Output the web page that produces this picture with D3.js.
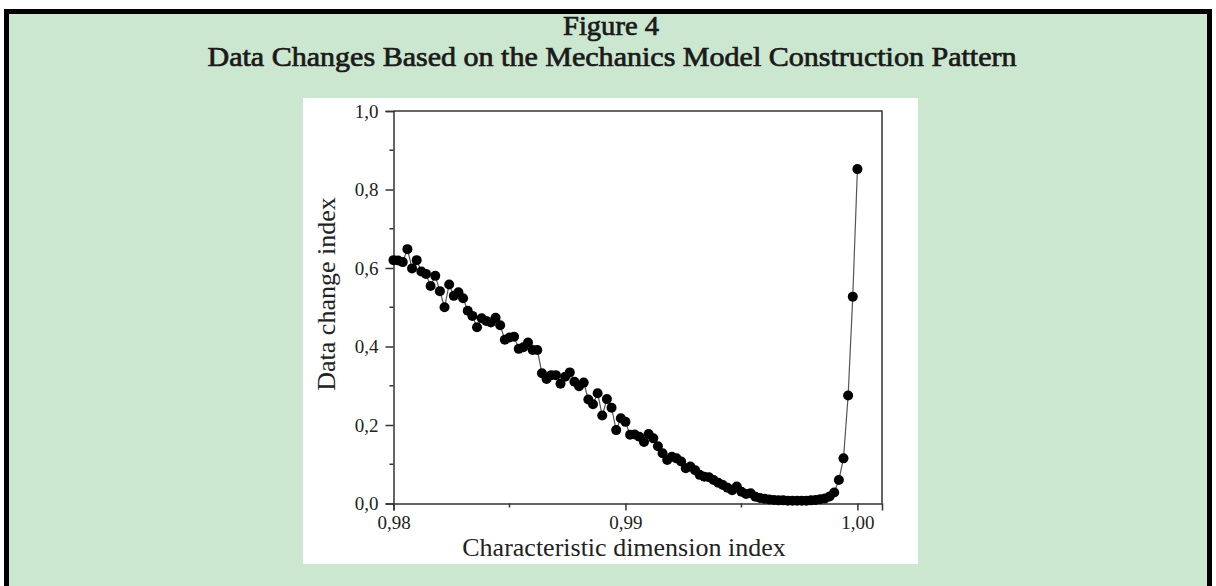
<!DOCTYPE html>
<html>
<head>
<meta charset="utf-8">
<script src="https://cdn.jsdelivr.net/npm/d3@7"></script>
<style>
  html, body { margin: 0; padding: 0; background: #fff; }
  svg { display: block; }
  .tick-label { font-family: 'Liberation Serif', 'DejaVu Serif', serif; font-size: 19px; fill: #222; }
  .axis-title { font-family: 'Liberation Serif', 'DejaVu Serif', serif; font-size: 26px; fill: #222; }
  .fig-title { font-family: 'Liberation Serif', 'DejaVu Serif', serif; font-size: 27px; fill: #1a1a1a; stroke: #1a1a1a; stroke-width: 0.7px; }
</style>
</head>
<body>
<svg id="chart" width="1216" height="586"></svg>
<script>
// characteristic dimension index (x) and data change index (y)
const dimensionIndex = [
  0.9800, 0.9802, 0.9804, 0.9806, 0.9808, 0.9810, 0.9812, 0.9814, 0.9816, 0.9818,
  0.9820, 0.9822, 0.9824, 0.9826, 0.9828, 0.9830, 0.9832, 0.9834, 0.9836, 0.9838,
  0.9840, 0.9842, 0.9844, 0.9846, 0.9848, 0.9850, 0.9852, 0.9854, 0.9856, 0.9858,
  0.9860, 0.9862, 0.9864, 0.9866, 0.9868, 0.9870, 0.9872, 0.9874, 0.9876, 0.9878,
  0.9880, 0.9882, 0.9884, 0.9886, 0.9888, 0.9890, 0.9892, 0.9894, 0.9896, 0.9898,
  0.9900, 0.9902, 0.9904, 0.9906, 0.9908, 0.9910, 0.9912, 0.9914, 0.9916, 0.9918,
  0.9920, 0.9922, 0.9924, 0.9926, 0.9928, 0.9930, 0.9932, 0.9934, 0.9936, 0.9938,
  0.9940, 0.9942, 0.9944, 0.9946, 0.9948, 0.9950, 0.9952, 0.9954, 0.9956, 0.9958,
  0.9960, 0.9962, 0.9964, 0.9966, 0.9968, 0.9970, 0.9972, 0.9974, 0.9976, 0.9978,
  0.9980, 0.9982, 0.9984, 0.9986, 0.9988, 0.9990, 0.9992, 0.9994, 0.9996, 0.9998,
  1.0000
]
const changeIndex = [
  0.620, 0.619, 0.615, 0.648, 0.599, 0.620, 0.591, 0.585, 0.554, 0.580,
  0.541, 0.500, 0.558, 0.529, 0.538, 0.523, 0.491, 0.478, 0.449, 0.472,
  0.465, 0.461, 0.473, 0.454, 0.417, 0.423, 0.425, 0.394, 0.398, 0.410,
  0.391, 0.391, 0.332, 0.317, 0.327, 0.327, 0.305, 0.323, 0.334, 0.310,
  0.299, 0.308, 0.265, 0.253, 0.281, 0.224, 0.266, 0.244, 0.187, 0.217,
  0.208, 0.175, 0.176, 0.170, 0.157, 0.177, 0.166, 0.146, 0.128, 0.111,
  0.119, 0.115, 0.107, 0.090, 0.094, 0.085, 0.073, 0.068, 0.067, 0.060,
  0.053, 0.047, 0.040, 0.034, 0.043, 0.030, 0.024, 0.026, 0.017, 0.014,
  0.012, 0.010, 0.009, 0.008, 0.008, 0.007, 0.007, 0.007, 0.007, 0.007,
  0.008, 0.009, 0.011, 0.013, 0.018, 0.028, 0.060, 0.115, 0.275, 0.527,
  0.852
]

const xTicks = [0.98, 0.99, 1.00]
const xTickLabels = ['0,98', '0,99', '1,00']
const xMinorTicks = [0.985, 0.995]
const yTicks = [0, 0.2, 0.4, 0.6, 0.8, 1.0]
const yTickLabels = ['0,0', '0,2', '0,4', '0,6', '0,8', '1,0']
const yMinorTicks = [0.1, 0.3, 0.5, 0.7, 0.9]

const titleLines = ['Figure 4', 'Data Changes Based on the Mechanics Model Construction Pattern']
const xTitle = 'Characteristic dimension index'
const yTitle = 'Data change index'

const svg = d3.select('#chart')

// green framed panel
svg.append('rect')
  .attr('x', 6.5).attr('y', 11.5)
  .attr('width', 1203).attr('height', 600)
  .attr('fill', '#cce7cf')
  .attr('stroke', '#000')
  .attr('stroke-width', 5)

svg.append('text').attr('class', 'fig-title')
  .attr('x', 611).attr('y', 35)
  .attr('text-anchor', 'middle')
  .attr('textLength', 96)
  .attr('lengthAdjust', 'spacingAndGlyphs')
  .text(titleLines[0])

svg.append('text').attr('class', 'fig-title')
  .attr('x', 612).attr('y', 66)
  .attr('text-anchor', 'middle')
  .attr('textLength', 809)
  .attr('lengthAdjust', 'spacingAndGlyphs')
  .text(titleLines[1])

// white image area of the chart
svg.append('rect')
  .attr('x', 303).attr('y', 98)
  .attr('width', 615).attr('height', 466)
  .attr('fill', '#fff')

const plot = { left: 393.5, right: 882, top: 111, bottom: 503.5 }

const x = d3.scaleLinear()
  .domain([0.98, 1.00106])
  .range([plot.left, plot.right])
const y = d3.scaleLinear()
  .domain([0, 1])
  .range([plot.bottom, plot.top])

// frame: top and right edges
svg.append('path')
  .attr('d', `M${plot.left},${plot.top}H${plot.right}V${plot.bottom}`)
  .attr('fill', 'none')
  .attr('stroke', '#333')
  .attr('stroke-width', 1.5)

const xAxis = svg.append('g')
  .attr('transform', `translate(0,${plot.bottom})`)
  .call(d3.axisBottom(x)
    .tickValues(xTicks)
    .tickSize(7)
    .tickPadding(5)
    .tickFormat((d, i) => xTickLabels[i]))
xAxis.append('g').selectAll('line')
  .data(xMinorTicks)
  .join('line')
  .attr('x1', d => x(d)).attr('x2', d => x(d))
  .attr('y1', 0).attr('y2', 4)

const yAxis = svg.append('g')
  .attr('transform', `translate(${plot.left},0)`)
  .call(d3.axisLeft(y)
    .tickValues(yTicks)
    .tickSize(8)
    .tickPadding(7)
    .tickFormat((d, i) => yTickLabels[i]))
yAxis.append('g').selectAll('line')
  .data(yMinorTicks)
  .join('line')
  .attr('x1', 0).attr('x2', -4)
  .attr('y1', d => y(d)).attr('y2', d => y(d))

for (const axis of [xAxis, yAxis]) {
  axis.select('.domain').attr('stroke', '#333').attr('stroke-width', 1.5)
  axis.selectAll('line').attr('stroke', '#333').attr('stroke-width', 1.5)
  axis.selectAll('.tick text').attr('class', 'tick-label').attr('fill', null)
  axis.attr('font-family', null).attr('font-size', null)
}

svg.append('text').attr('class', 'axis-title')
  .attr('x', 624).attr('y', 556)
  .attr('text-anchor', 'middle')
  .text(xTitle)

svg.append('text').attr('class', 'axis-title')
  .attr('transform', `translate(335,294) rotate(-90)`)
  .attr('text-anchor', 'middle')
  .text(yTitle)

const points = dimensionIndex.map((d, i) => ({ x: d, y: changeIndex[i] }))

svg.append('path')
  .datum(points)
  .attr('fill', 'none')
  .attr('stroke', '#555')
  .attr('stroke-width', 1.2)
  .attr('d', d3.line().x(d => x(d.x)).y(d => y(d.y)))

svg.append('g').selectAll('circle')
  .data(points)
  .join('circle')
  .attr('cx', d => x(d.x))
  .attr('cy', d => y(d.y))
  .attr('r', 5)
  .attr('fill', '#000')
</script>
</body>
</html>
